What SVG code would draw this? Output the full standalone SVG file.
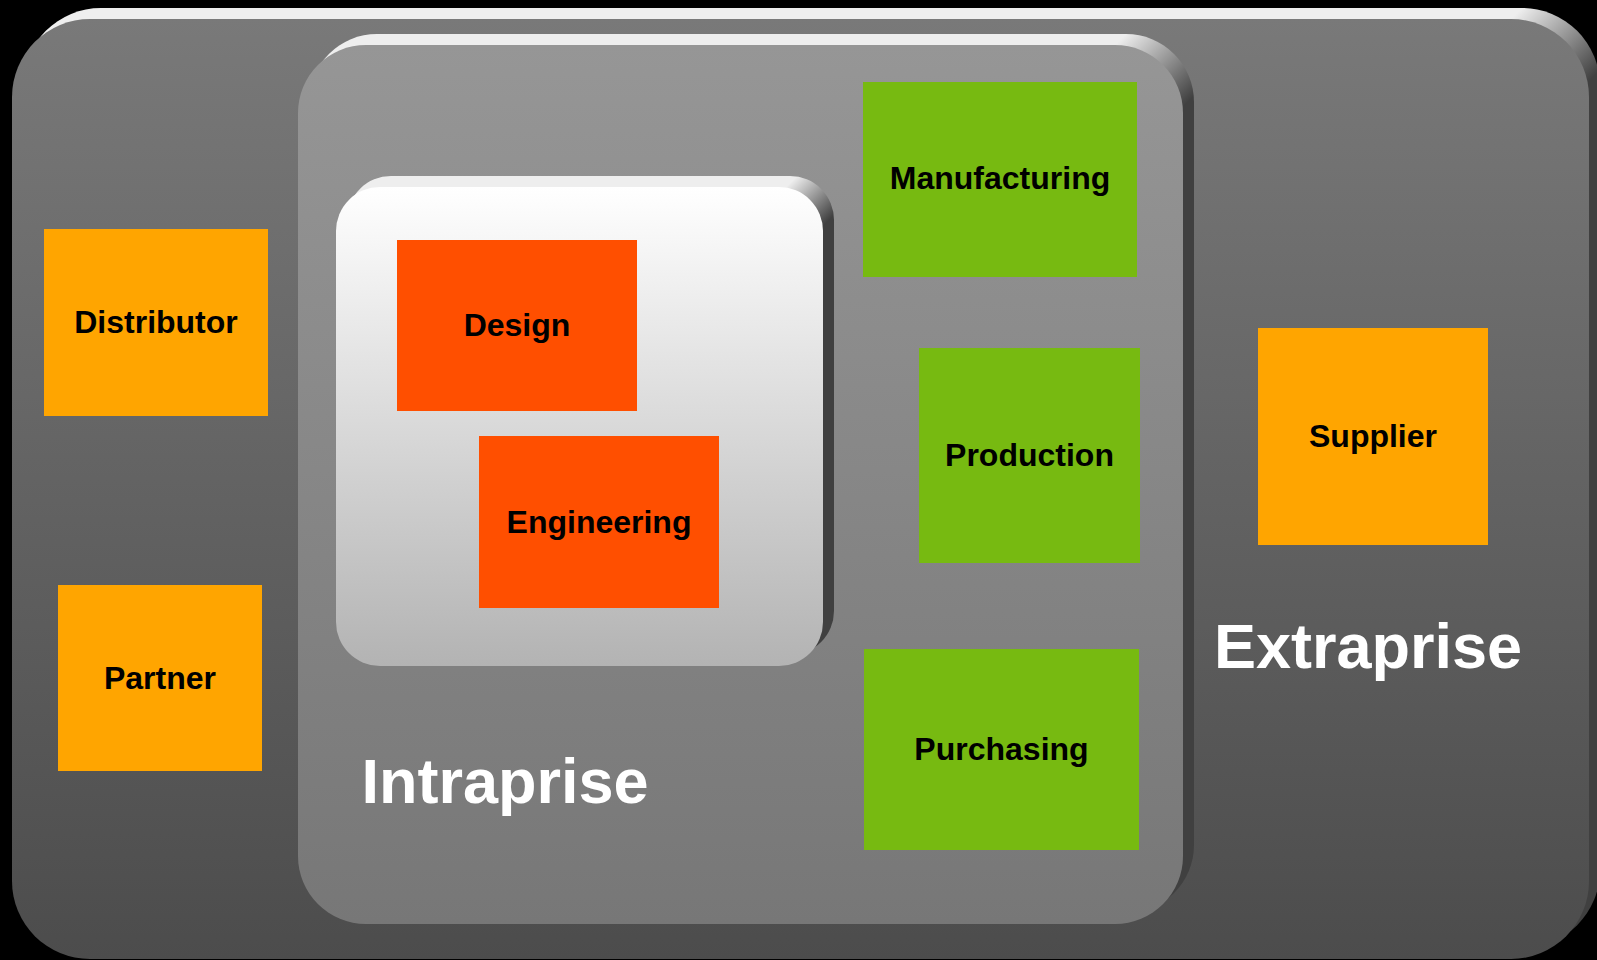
<svg xmlns="http://www.w3.org/2000/svg" width="1597" height="960" viewBox="0 0 1597 960">
  <defs>
    <linearGradient id="outerFill" x1="0" y1="0" x2="0" y2="1">
      <stop offset="0" stop-color="#797979"/>
      <stop offset="1" stop-color="#4c4c4c"/>
    </linearGradient>
    <linearGradient id="intraFill" x1="0" y1="0" x2="0" y2="1">
      <stop offset="0" stop-color="#969696"/>
      <stop offset="1" stop-color="#777777"/>
    </linearGradient>
    <linearGradient id="innerFill" x1="0" y1="0" x2="0" y2="1">
      <stop offset="0" stop-color="#ffffff"/>
      <stop offset="1" stop-color="#b3b3b3"/>
    </linearGradient>
    <linearGradient id="outerBevel" gradientUnits="userSpaceOnUse" x1="1520" y1="10" x2="1590" y2="80">
      <stop offset="0" stop-color="#eeeeee"/>
      <stop offset="1" stop-color="#404040"/>
    </linearGradient>
    <linearGradient id="intraBevel" gradientUnits="userSpaceOnUse" x1="1125" y1="35" x2="1190" y2="100">
      <stop offset="0" stop-color="#eeeeee"/>
      <stop offset="1" stop-color="#404040"/>
    </linearGradient>
    <linearGradient id="innerBevel" gradientUnits="userSpaceOnUse" x1="795" y1="178" x2="833" y2="216">
      <stop offset="0" stop-color="#eeeeee"/>
      <stop offset="1" stop-color="#404040"/>
    </linearGradient>
  </defs>
  <style>
    .lbl { font-family: "Liberation Sans", Arial, sans-serif; font-weight: bold; font-size: 32px; text-anchor: middle; fill: #000000; }
    .big { font-family: "Liberation Sans", Arial, sans-serif; font-weight: bold; font-size: 63px; text-anchor: middle; fill: #ffffff; }
    .orange { fill: #ffa500; }
    .green { fill: #77ba11; }
    .red { fill: #ff4f00; }
  </style>
  <rect x="0" y="0" width="1597" height="960" fill="#000000"/>

  <g id="extraprise">
    <rect x="23" y="8" width="1577" height="940" rx="78" ry="78" fill="url(#outerBevel)"/>
    <rect x="12" y="19" width="1577" height="940" rx="78" ry="78" fill="url(#outerFill)"/>
    <text class="big" x="1368" y="668">Extraprise</text>
  </g>

  <g id="intraprise">
    <rect x="309" y="34" width="885" height="879" rx="68" ry="68" fill="url(#intraBevel)"/>
    <rect x="298" y="45" width="885" height="879" rx="68" ry="68" fill="url(#intraFill)"/>
    <text class="big" x="505" y="803">Intraprise</text>
  </g>

  <g id="core">
    <rect x="347" y="176" width="487" height="479" rx="44" ry="44" fill="url(#innerBevel)"/>
    <rect x="336" y="187" width="487" height="479" rx="44" ry="44" fill="url(#innerFill)"/>
  </g>

  <g id="distributor">
    <rect class="orange" x="44" y="229" width="224" height="187"/>
    <text class="lbl" x="156" y="333">Distributor</text>
  </g>
  <g id="partner">
    <rect class="orange" x="58" y="585" width="204" height="186"/>
    <text class="lbl" x="160" y="689">Partner</text>
  </g>
  <g id="supplier">
    <rect class="orange" x="1258" y="328" width="230" height="217"/>
    <text class="lbl" x="1373" y="447">Supplier</text>
  </g>
  <g id="manufacturing">
    <rect class="green" x="863" y="82" width="274" height="195"/>
    <text class="lbl" x="1000" y="189">Manufacturing</text>
  </g>
  <g id="production">
    <rect class="green" x="919" y="348" width="221" height="215"/>
    <text class="lbl" x="1029.5" y="466">Production</text>
  </g>
  <g id="purchasing">
    <rect class="green" x="864" y="649" width="275" height="201"/>
    <text class="lbl" x="1001.5" y="760">Purchasing</text>
  </g>
  <g id="design">
    <rect class="red" x="397" y="240" width="240" height="171"/>
    <text class="lbl" x="517" y="336">Design</text>
  </g>
  <g id="engineering">
    <rect class="red" x="479" y="436" width="240" height="172"/>
    <text class="lbl" x="599" y="533">Engineering</text>
  </g>

  <g id="connectors"></g>
</svg>
